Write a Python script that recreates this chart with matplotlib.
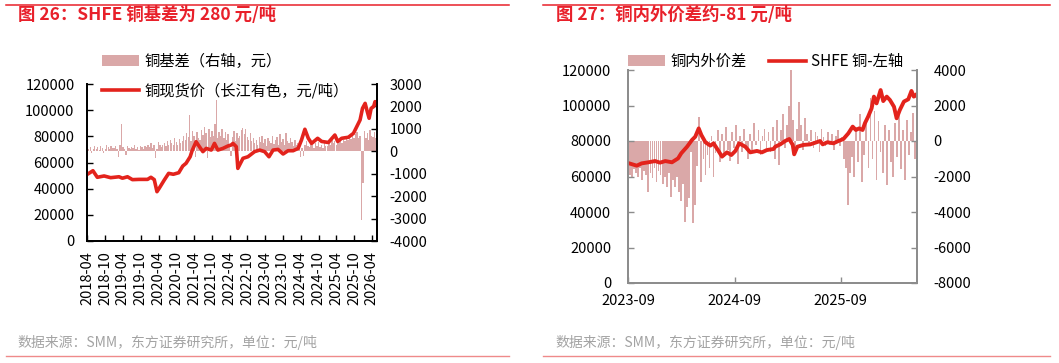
import pandas as pd
import matplotlib.pyplot as plt
import matplotlib.dates as mdates
from matplotlib.lines import Line2D
from matplotlib.patches import Patch

plt.rcParams['font.family'] = ['Noto Sans CJK SC', 'DejaVu Sans']
plt.rcParams['axes.unicode_minus'] = False

# ---------------- 图26 数据 ----------------
# 铜现货价（长江有色），读图取点
spot_dates = ['2018-04-01', '2018-05-28', '2018-07-12', '2018-09-20', '2018-11-26',
              '2019-02-20', '2019-03-27', '2019-05-18', '2019-07-08', '2019-09-15',
              '2019-12-10', '2020-01-14', '2020-02-17', '2020-03-16', '2020-04-08',
              '2020-05-30', '2020-07-14', '2020-08-31', '2020-10-26', '2020-12-06',
              '2021-01-09', '2021-02-20', '2021-03-12', '2021-04-22', '2021-05-26',
              '2021-07-01', '2021-08-04', '2021-09-25', '2021-10-28', '2021-12-02',
              '2022-01-23', '2022-03-15', '2022-04-18', '2022-05-06', '2022-06-09',
              '2022-06-25', '2022-08-17', '2022-10-07', '2022-12-14', '2023-02-04',
              '2023-03-27', '2023-05-11', '2023-06-22', '2023-08-12', '2023-10-03',
              '2023-11-23', '2024-01-14', '2024-03-06', '2024-04-09', '2024-05-14',
              '2024-06-18', '2024-07-22', '2024-09-22', '2024-11-02', '2025-01-10',
              '2025-03-18', '2025-04-16', '2025-05-27', '2025-08-04', '2025-09-25',
              '2025-10-29', '2025-12-02', '2025-12-27', '2026-01-23', '2026-02-09',
              '2026-03-05', '2026-03-26', '2026-04-20', '2026-05-05', '2026-05-24']
spot_price = [51000, 53700, 48700, 49700, 48400,
              49100, 48000, 49100, 46900, 47100,
              47100, 48700, 46900, 37700, 40300,
              46600, 51700, 51000, 52200, 57300,
              59400, 64400, 69000, 75900, 72100,
              68300, 70800, 69500, 74600, 69500,
              70800, 72600, 73400, 74600, 72100,
              55500, 63200, 64400, 68300, 69500,
              68300, 64400, 69500, 70000, 66500,
              69000, 69000, 70800, 77200, 85400,
              78500, 74600, 78500, 76100, 75300,
              81000, 76100, 78500, 79300, 82300,
              87400, 92500, 101400, 105200, 100300,
              93800, 101400, 102700, 106500, 104000]

# 铜基差（右轴），半月取值，自2018-04起
basis_start = '2018-04-01'
basis_vals = [150, 80, 200, -60, 120, 250, 90, 180, 60, 220, 140, -80, 100, 260, 180, 90, 230, 150,
              150, 220, 90, -250, 260, 1200, 180, 120, -150, 240, 160, 90, 210, 140, 280, 110, 190, 60, 230, 170, 120, 250, 180, 300,
              200, 350, 150, 280, -300, 100, 420, 260, 180, 300, 380, 220, 450, 300, 520, 380, 260, 600, 420, 300, 550, 380, 480, 700,
              520, 800, 650, 1600, 450, 900, 700, -250, 850, 600, 500, 950, 720, 1100, 800, -300, 1000, 650, 900, 700, 1200, 2300, 600, 850,
              700, 1000, 600, 850, 500, 750, 300, -200, 650, 900, 450, 800, 600, 700, 950, 1060, 750, 1000, 650, 500, 800, 450, 600, 350,
              500, 300, 650, 420, 700, 350, 550, 250, 600, 450, 380, 700, 320, 500, 650, 280, 750, 400, 550, 300, 800, 450, 350, 600,
              400, 250, 500, 300, 350, 200, -250, 150, -200, 300, 450, 250, 180, 400, 300, 150, 350, 250, 400, 200, 300, 150, 350, 250,
              250, 400, 300, 500, 350, 450, 300, 550, 400, 600, 350, 500, 450, 650, 500, 700, 550, 800, 600, 750, 850, 600, 700, -3060,
              -1400, 900, 600, 800, 500, 950, 700, 650, 850, 600]

# ---------------- 图27 数据 ----------------
shfe_dates = ['2023-09-05', '2023-10-01', '2023-10-18', '2023-11-10', '2023-12-03',
              '2023-12-20', '2024-01-07', '2024-01-30', '2024-02-20', '2024-03-02',
              '2024-03-22', '2024-04-08', '2024-04-19', '2024-05-01', '2024-05-10',
              '2024-05-24', '2024-06-10', '2024-06-21', '2024-07-06', '2024-07-20',
              '2024-08-06', '2024-08-21', '2024-09-04', '2024-09-17', '2024-10-08',
              '2024-10-25', '2024-11-17', '2024-12-04', '2024-12-21', '2025-01-13',
              '2025-01-19', '2025-02-05', '2025-02-22', '2025-03-08', '2025-03-20',
              '2025-03-25', '2025-04-05', '2025-04-26', '2025-05-19', '2025-06-10',
              '2025-06-22', '2025-07-01', '2025-07-17', '2025-08-07', '2025-08-24',
              '2025-09-10', '2025-09-27', '2025-10-12', '2025-10-23', '2025-11-03',
              '2025-11-15', '2025-11-23', '2025-12-04', '2025-12-16', '2025-12-24',
              '2026-01-02', '2026-01-16', '2026-01-25', '2026-02-06', '2026-02-17',
              '2026-03-03', '2026-03-12', '2026-03-23', '2026-04-06', '2026-04-21',
              '2026-05-02', '2026-05-10', '2026-05-19', '2026-05-24']
shfe_price = [67400, 66100, 67400, 68000, 68700,
              67800, 68700, 68000, 70200, 73100,
              76800, 80600, 82400, 87100, 83400,
              79300, 77400, 78700, 74900, 71200,
              73600, 72100, 74400, 78700, 76800,
              73600, 74400, 73600, 74900, 75500,
              76800, 78100, 80000, 81100, 77800,
              72500, 76800, 77800, 78100, 79300,
              80000, 78100, 79300, 78700, 80000,
              81100, 84300, 88100, 86200, 87100,
              86200, 90000, 93700, 98400, 105000,
              101200, 108700, 102500, 105000, 103100,
              99300, 92800, 97500, 102200, 103500,
              108200, 105000, 106300, 104400]

# 铜内外价差（右轴），周度取值，自2023-09-01起
spread_start = '2023-09-01'
spread_vals = [-1400, -1900, -2100, -1600, -1800, -2000, -1500, -2200, -1700, -1900,
               -2850, -1800, -2100, -1500, -2300, -1700, -1900, -2400, -2000, -2570,
               -1800, -3130, -2200, -2600, -2000, -2900, -3400, -2400, -4550, -3700,
               -3200, -600, -4600, -3600, -1400, 1370, -2300, -1000, -1900, -800,
               -1500, 300, -2000, -700, 600, -1200, 400, -900, 800, -500,
               -1100, 500, -400, 900, -1300, 300, -600, 700, -300, -1000,
               400, -500, 1000, -200, 600, -800, 300, 700, -400, 500,
               -600, 800, -1000, 1200, -1350, 600, 1500, -400, 900, 2000,
               4000, 1200, -800, 700, 2200, 900, -500, 1300, 400, -300,
               600, -400, 500, 300, -600, 700, 200, -300, 500, -200,
               400, -500, 300, 600, -300, 200, -1000, -1500, -3600, -1800,
               -900, -2000, 800, -1200, 1500, -2300, -800, 1200, -1500, 2400,
               -1000, 1700, -2200, 1100, -600, -1800, 900, -2500, 600, -1200,
               -2000, 1000, -900, 1700, -1600, 600, -2200, 1200, -800, 500, 1550, -1000]

RED = '#e3231c'
TITLE_RED = '#e8202a'
BAR = '#daa8a8'
GREY_TXT = '#a3a3a3'

W, H = 1059, 363
def box(x0, y0, x1, y1):
    return [x0 / W, 1 - y1 / H, (x1 - x0) / W, (y1 - y0) / H]

fig = plt.figure(figsize=(W / 100, H / 100), dpi=100)

# 页眉/页脚线与文字
for x0, x1 in [(6, 509), (543, 1050)]:
    fig.add_artist(Line2D([x0 / W, x1 / W], [1 - 5 / H] * 2, color=TITLE_RED, lw=1.1))
    fig.add_artist(Line2D([x0 / W, x1 / W], [1 - 356 / H] * 2, color='#ef8a8a', lw=1.0))
fig.text(18 / W, 1 - 15 / H, '图 26：SHFE 铜基差为 280 元/吨', color=TITLE_RED,
         fontsize=12.5, fontweight='bold', va='center')
fig.text(556 / W, 1 - 15 / H, '图 27：铜内外价差约-81 元/吨', color=TITLE_RED,
         fontsize=12.5, fontweight='bold', va='center')
fig.text(17 / W, 1 - 343 / H, '数据来源：SMM，东方证券研究所，单位：元/吨', color=GREY_TXT,
         fontsize=10, va='center')
fig.text(555 / W, 1 - 343 / H, '数据来源：SMM，东方证券研究所，单位：元/吨', color=GREY_TXT,
         fontsize=10, va='center')

# ---------------- 图26 ----------------
ax1 = fig.add_axes(box(87, 84, 377, 241))
ax1b = ax1.twinx()
basis_dates = pd.date_range(basis_start, periods=len(basis_vals), freq='SMS')
ax1b.bar(basis_dates, basis_vals, width=14, color=BAR, linewidth=0)
ax1.plot(pd.to_datetime(spot_dates), spot_price, color=RED, lw=2.6)
ax1.set_zorder(ax1b.get_zorder() + 1)
ax1.patch.set_visible(False)

ax1.set_ylim(0, 120000)
ax1.set_yticks(range(0, 120001, 20000))
ax1b.set_ylim(-4000, 3000)
ax1b.set_yticks(range(-4000, 3001, 1000))
ax1.set_xlim(pd.Timestamp('2018-03-28'), pd.Timestamp('2026-05-25'))
ax1.xaxis.set_major_locator(mdates.MonthLocator(bymonth=[4, 10]))
ax1.xaxis.set_major_formatter(mdates.DateFormatter('%Y-%m'))
ax1.tick_params(axis='x', labelrotation=90, direction='in', length=4, width=1, pad=7, labelsize=10.5)
ax1.tick_params(axis='y', direction='in', length=4, width=1, pad=9, labelsize=10.5)
ax1b.tick_params(axis='y', direction='in', length=4, width=1, pad=9, labelsize=10.5)
for a in (ax1, ax1b):
    a.spines['top'].set_visible(False)
    for s in ('left', 'right', 'bottom'):
        a.spines[s].set_linewidth(1.3)

fig.legend([Patch(facecolor=BAR, edgecolor='none'), Line2D([], [], color=RED, lw=2.6)],
           ['铜基差（右轴，元）', '铜现货价（长江有色，元/吨）'],
           loc='upper left', bbox_to_anchor=(102 / W, 1 - 53 / H), frameon=False,
           fontsize=11, handlelength=2.4, handletextpad=0.4, labelspacing=0.8,
           borderpad=0, borderaxespad=0)

# ---------------- 图27 ----------------
ax2 = fig.add_axes(box(628, 70, 917, 283))
ax2b = ax2.twinx()
spread_dates = pd.date_range(spread_start, periods=len(spread_vals), freq='7D')
ax2b.bar(spread_dates, spread_vals, width=6, color=BAR, linewidth=0)
ax2.plot(pd.to_datetime(shfe_dates), shfe_price, color=RED, lw=2.8)
ax2.set_zorder(ax2b.get_zorder() + 1)
ax2.patch.set_visible(False)

ax2.set_ylim(0, 120000)
ax2.set_yticks(range(0, 120001, 20000))
ax2b.set_ylim(-8000, 4000)
ax2b.set_yticks(range(-8000, 4001, 2000))
ax2.set_xlim(pd.Timestamp('2023-09-01'), pd.Timestamp('2026-05-21'))
ax2.xaxis.set_major_locator(mdates.MonthLocator(bymonth=[9]))
ax2.xaxis.set_major_formatter(mdates.DateFormatter('%Y-%m'))
ax2.tick_params(axis='x', direction='in', length=4, width=1, pad=8, labelsize=10.5, color='#8c8c8c')
ax2.tick_params(axis='y', direction='in', length=4, width=1, pad=12, labelsize=10.5, color='#8c8c8c')
ax2b.tick_params(axis='y', direction='in', length=4, width=1, pad=12, labelsize=10.5, color='#8c8c8c')
for a in (ax2, ax2b):
    a.spines['top'].set_visible(False)
    for s in ('left', 'right', 'bottom'):
        a.spines[s].set_linewidth(1.3)
        a.spines[s].set_color('#8c8c8c')

fig.legend([Patch(facecolor=BAR, edgecolor='none'), Line2D([], [], color=RED, lw=2.6)],
           ['铜内外价差', 'SHFE 铜-左轴'], ncol=2,
           loc='upper left', bbox_to_anchor=(628 / W, 1 - 53 / H), frameon=False,
           fontsize=11, handlelength=2.4, handletextpad=0.35, columnspacing=1.5,
           borderpad=0, borderaxespad=0)

fig.savefig('out.png', dpi=100)
